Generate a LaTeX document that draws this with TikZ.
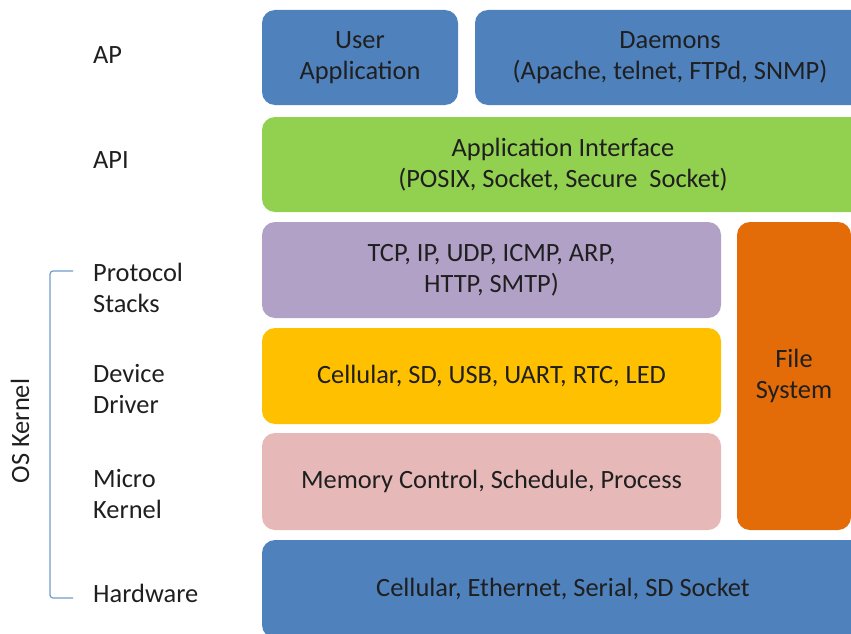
\documentclass[tikz,border=0pt]{standalone}
\usepackage{fontspec}
\setmainfont{Carlito}
\usetikzlibrary{positioning}
\definecolor{appblue}{HTML}{4F81BD}
\definecolor{apigreen}{HTML}{92D050}
\definecolor{stackpurple}{HTML}{B2A1C7}
\definecolor{driveryellow}{HTML}{FFC000}
\definecolor{kernelpink}{HTML}{E6B9B8}
\definecolor{fsorange}{HTML}{E36C09}
\definecolor{textdark}{HTML}{1F1F1F}
\tikzset{every node/.style={font=\fontsize{26.4}{31}\selectfont, text=textdark},
	layer/.style={rectangle, rounded corners=13pt, inner sep=0pt, align=center},
	levelname/.style={anchor=west, align=left, inner sep=0pt}}
\begin{document}
\begin{tikzpicture}[x=1pt,y=-1pt]
	\useasboundingbox (0,0) rectangle (851,634);
	% layer boxes
	\node[layer, fill=appblue, minimum width=196pt, minimum height=95pt] (user) at (360,57.5) {User\\Application};
	\node[layer, fill=appblue, minimum width=390pt, minimum height=95pt] (daemons) at (670,57.5) {Daemons\\(Apache, telnet, FTPd, SNMP)};
	\node[layer, fill=apigreen, minimum width=602pt, minimum height=95pt] (api) at (563,164.5) {Application Interface\\(POSIX, Socket, Secure\ \ Socket)};
	\node[layer, fill=stackpurple, minimum width=459pt, minimum height=96pt] (stacks) at (491.5,270) {TCP, IP, UDP, ICMP, ARP,\\HTTP, SMTP)};
	\node[layer, fill=driveryellow, minimum width=459pt, minimum height=96pt] (driver) at (491.5,376) {Cellular, SD, USB, UART, RTC, LED};
	\node[layer, fill=kernelpink, minimum width=459pt, minimum height=97pt] (kernel) at (491.5,481.5) {Memory Control, Schedule, Process};
	\node[layer, fill=fsorange, minimum width=114pt, minimum height=308pt] (fs) at (794,376) {File\\System};
	\node[layer, fill=appblue, minimum width=602pt, minimum height=98pt] (hw) at (563,589) {Cellular, Ethernet, Serial, SD Socket};
	% level names
	\node[levelname] (ap-name) at (93,55) {AP};
	\node[levelname] (api-name) at (93,160) {API};
	\node[levelname] (stacks-name) at (93,288) {Protocol\\Stacks};
	\node[levelname] (driver-name) at (93,389) {Device\\Driver};
	\node[levelname] (kernel-name) at (93,494) {Micro\\Kernel};
	\node[levelname] (hw-name) at (93,593) {Hardware};
	% os kernel bracket
	\coordinate (top-end) at (73,271);
	\coordinate (bottom-end) at (73,598);
	\draw[appblue!80, line width=1.2pt, rounded corners=3pt] (top-end) -- (50,271) -- (50,598) -- (bottom-end);
	\node[rotate=90, inner sep=0pt] (os-kernel) at (20,431) {OS Kernel};
\end{tikzpicture}
\end{document}
